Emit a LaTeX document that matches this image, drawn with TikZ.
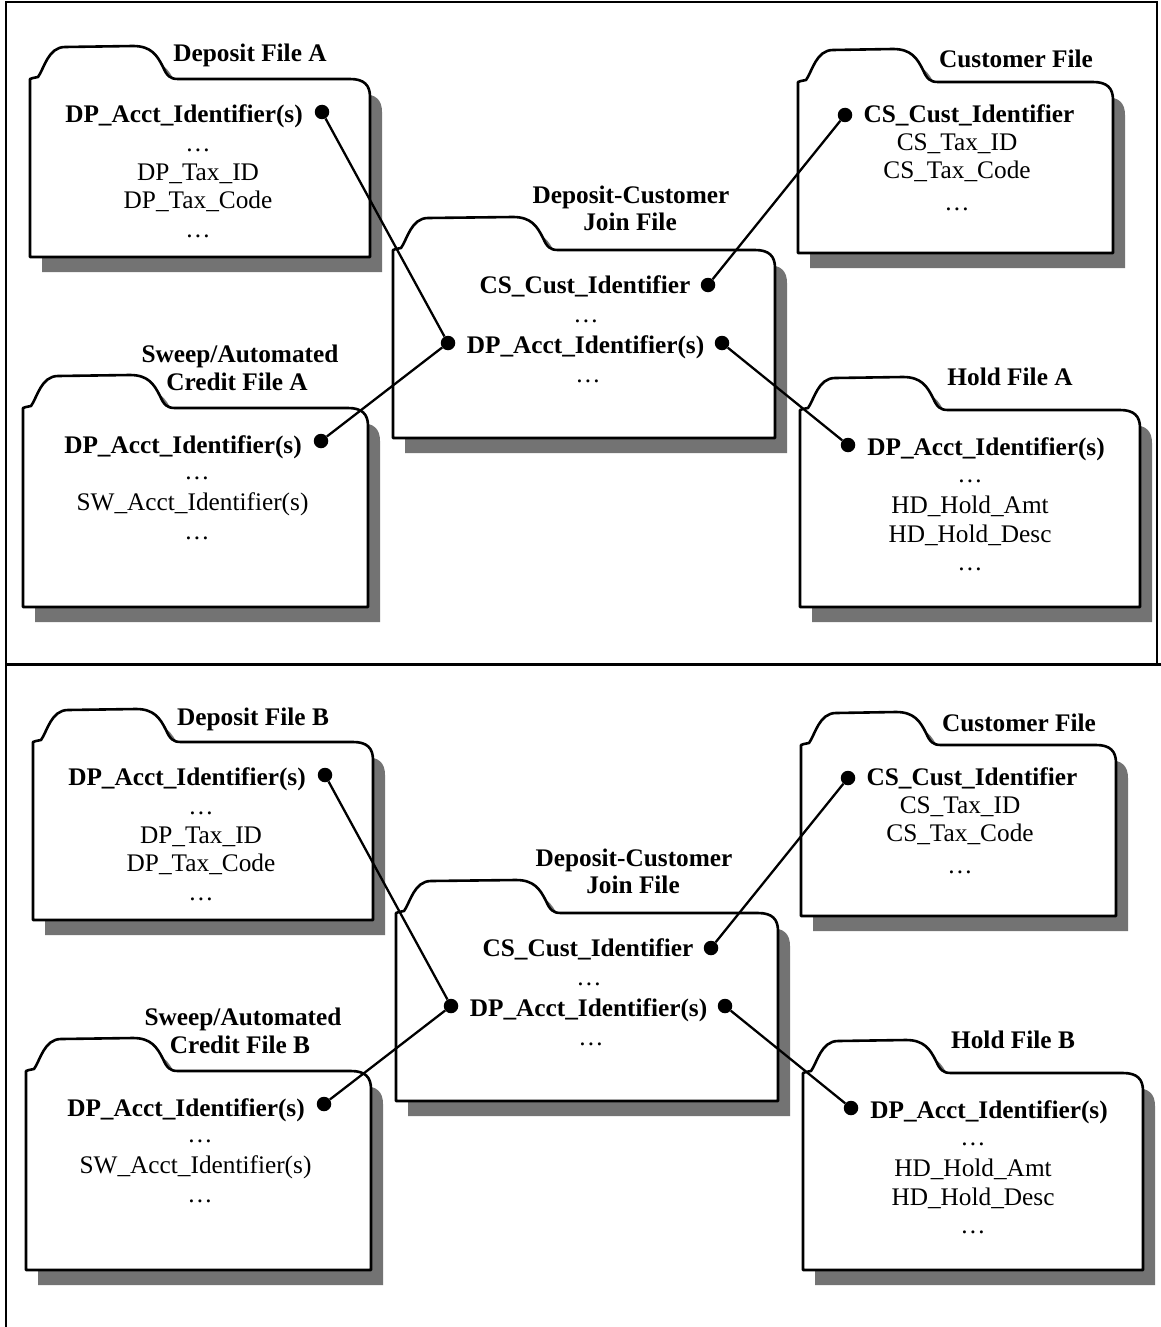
\documentclass[tikz,border=0pt]{standalone}
\usepackage{fontspec}
\setmainfont{Liberation Serif}
\tikzset{
  outl/.style={line width=2.6pt, fill=white, line join=round},
  shad/.style={fill=black!55, draw=none},
  conn/.style={line width=2.3pt},
  dotn/.style={circle, fill=black, inner sep=0pt, minimum size=14.5pt},
  bt/.style={anchor=base, font=\fontsize{25.3}{29}\selectfont\bfseries, inner sep=0pt},
  nt/.style={anchor=base, font=\fontsize{25.3}{29}\selectfont, inner sep=0pt},
  frame/.style={line width=2pt},
  divider/.style={line width=3pt},
}
% #1=L #2=T #3=R #4=B #5=S (tab step x) #6=style
\newcommand{\fpath}[6]{%
  \path[#6] (#1,#4) -- (#1,#2) -- ({#1+3},{#2-1}) -- ({#1+8},{#2-2})
    .. controls ({#1+14},{#2-10}) and ({#1+18},{#2-32}) .. ({#1+35},{#2-32})
    -- ({#5-40},{#2-33})
    .. controls ({#5-22},{#2-33}) and ({#5-16},{#2-24}) .. ({#5-10},{#2-12})
    .. controls ({#5-6},{#2-3}) and ({#5-3},{#2}) .. ({#5+5},{#2})
    -- ({#3-20},{#2})
    .. controls ({#3-6},{#2}) and ({#3},{#2+6}) .. ({#3},{#2+18})
    -- (#3,#4) -- cycle;}
\newcommand{\folder}[5]{%
  \fpath{#1}{#2}{#3}{#4}{#5}{shad,shift={(12,15)}}%
  \fpath{#1}{#2}{#3}{#4}{#5}{outl,draw}}
\newcommand{\panel}[1]{%
  \folder{30}{79}{370}{257}{173}
  \folder{798}{82}{1113}{253}{933}
  \folder{393}{250}{775}{438}{553}
  \folder{23}{408}{368}{607}{170}
  \folder{800}{410}{1140}{607}{943}
  % Deposit file
  \node[bt] (tdep#1) at (250,62) {Deposit File #1};
  \node[bt] (dpa#1) at (184,122) {DP\_Acct\_Identifier(s)};
  \node[dotn] (d1#1) at (322,112) {};
  \node[nt] (dpe1#1) at (198,151) {\textellipsis};
  \node[nt] (dpt#1) at (198,180) {DP\_Tax\_ID};
  \node[nt] (dpc#1) at (198,208) {DP\_Tax\_Code};
  \node[nt] (dpe2#1) at (198,237) {\textellipsis};
  % Customer file
  \node[bt] (tcus#1) at (1016,68) {Customer File};
  \node[dotn] (cu#1) at (845,115) {};
  \node[bt] (csi#1) at (969,122) {CS\_Cust\_Identifier};
  \node[nt] (cst#1) at (957,150) {CS\_Tax\_ID};
  \node[nt] (csc#1) at (957,178) {CS\_Tax\_Code};
  \node[nt] (cse#1) at (957,210) {\textellipsis};
  % Join file
  \node[bt] (tj1#1) at (631,203) {Deposit-Customer};
  \node[bt] (tj2#1) at (630,230) {Join File};
  \node[bt] (jci#1) at (585,293) {CS\_Cust\_Identifier};
  \node[dotn] (jc#1) at (708,285) {};
  \node[nt] (je1#1) at (586,322) {\textellipsis};
  \node[bt] (jda#1) at (585.5,353) {DP\_Acct\_Identifier(s)};
  \node[dotn] (jl#1) at (448,343) {};
  \node[dotn] (jr#1) at (722,343) {};
  \node[nt] (je2#1) at (588,382) {\textellipsis};
  % Sweep file
  \node[bt] (ts1#1) at (240,362) {Sweep/Automated};
  \node[bt] (ts2#1) at (237,390) {Credit File #1};
  \node[bt] (swa#1) at (183,453) {DP\_Acct\_Identifier(s)};
  \node[dotn] (sw#1) at (321,441) {};
  \node[nt] (swe1#1) at (197,479) {\textellipsis};
  \node[nt] (sws#1) at (192.5,510) {SW\_Acct\_Identifier(s)};
  \node[nt] (swe2#1) at (197,539) {\textellipsis};
  % Hold file
  \node[bt] (thd#1) at (1010,385) {Hold File #1};
  \node[dotn] (ho#1) at (848,445) {};
  \node[bt] (hda#1) at (986,455) {DP\_Acct\_Identifier(s)};
  \node[nt] (hde1#1) at (970,482) {\textellipsis};
  \node[nt] (hdm#1) at (970,513) {HD\_Hold\_Amt};
  \node[nt] (hdd#1) at (970,542) {HD\_Hold\_Desc};
  \node[nt] (hde2#1) at (970,570) {\textellipsis};
  % connectors
  \draw[conn] (d1#1) -- (jl#1);
  \draw[conn] (sw#1) -- (jl#1);
  \draw[conn] (jc#1) -- (cu#1);
  \draw[conn] (jr#1) -- (ho#1);
}
\begin{document}
\begin{tikzpicture}[x=1pt,y=-1pt]
  \useasboundingbox (0,0) rectangle (1161,1327);
  \fill[white] (0,0) rectangle (1161,1327);
  \draw[frame] (6,1327) -- (6,2) -- (1157,2) -- (1157,664);
  \draw[divider] (6,664) -- (1161,664);
  \panel{A}
  \begin{scope}[shift={(3,663)}]
    \panel{B}
  \end{scope}
\end{tikzpicture}
\end{document}
